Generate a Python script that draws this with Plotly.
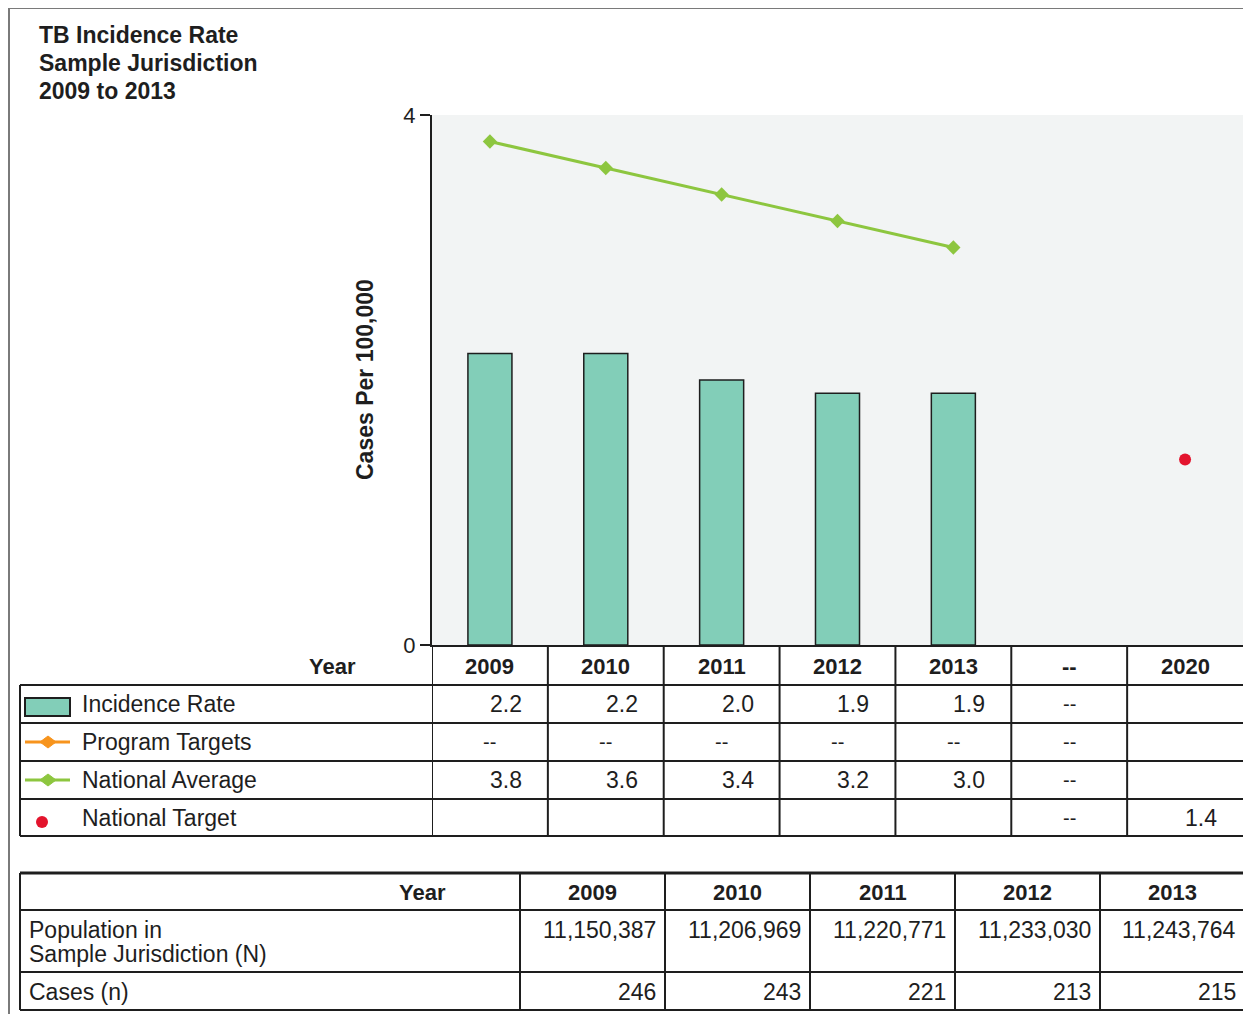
import plotly.graph_objects as go

# chart categories and values
years = ["2009", "2010", "2011", "2012", "2013", "--", "2020"]
bar_years = ["2009", "2010", "2011", "2012", "2013"]
incidence_rate = [2.2, 2.2, 2.0, 1.9, 1.9]
national_average = [3.8, 3.6, 3.4, 3.2, 3.0]
target_years = ["2020"]
national_target = [1.4]
row_labels = ["Incidence Rate", "Program Targets", "National Average", "National Target"]

# second table
pop_years = ["2009", "2010", "2011", "2012", "2013"]
population = [11150387, 11206969, 11220771, 11233030, 11243764]
cases = [246, 243, 221, 213, 215]

# page has an 8px body margin, so the figure is a bit smaller than the window
OFF = 8
W, H = 1235, 1006
L, R, T = 432 - OFF, 0, 115 - OFF
B = H - (645 - OFF)
FONT = "Liberation Sans, Arial, sans-serif"
INK = "#1e1e1e"
TEAL = "#82ceb8"
GREEN = "#8dc63f"
ORANGE = "#f7941d"
RED = "#e3142d"
RIGHT = 1243  # right edge of the plot in page pixels


def px(x):
    return (x - OFF - L) / (W - L - R)


def py(y):
    return (H - B - (y - OFF)) / (H - T - B)


fig = go.Figure()

fig.add_trace(go.Bar(
    x=bar_years, y=incidence_rate, name="Incidence Rate",
    marker=dict(color=TEAL, line=dict(color=INK, width=1.5)),
    width=0.38,
))
fig.add_trace(go.Scatter(
    x=bar_years, y=national_average, name="National Average", mode="lines+markers",
    line=dict(color=GREEN, width=3),
    marker=dict(symbol="diamond", size=11, color=GREEN),
))
fig.add_trace(go.Scatter(
    x=target_years, y=national_target, name="National Target", mode="markers",
    marker=dict(symbol="circle", size=12, color=RED),
))

shapes = []
ann = []


def hline(y, x0, x1, width=2, color=INK):
    shapes.append(dict(type="line", xref="paper", yref="paper", x0=px(x0), x1=px(x1),
                       y0=py(y), y1=py(y), line=dict(color=color, width=width)))


def vline(x, y0, y1, width=2, color=INK):
    shapes.append(dict(type="line", xref="paper", yref="paper", x0=px(x), x1=px(x),
                       y0=py(y0), y1=py(y1), line=dict(color=color, width=width)))


def text(x, y, s, anchor="left", bold=False, size=23, xref="paper", xshift=0):
    ann.append(dict(x=x, y=py(y), xref=xref, yref="paper", text=f"<b>{s}</b>" if bold else s,
                    showarrow=False, xanchor=anchor, yanchor="middle", xshift=xshift,
                    font=dict(family=FONT, size=size, color=INK)))


# outer frame
hline(8, 9, 1251, width=2, color="#7a7a7a")
vline(9, 8, 1022, width=2, color="#7a7a7a")

# title and axis title
for i, s in enumerate(["TB Incidence Rate", "Sample Jurisdiction", "2009 to 2013"]):
    text(px(37), 35 + 28 * i, s, bold=True)
ann.append(dict(x=px(350), y=0.5, xref="paper", yref="paper", text="<b>Cases Per 100,000</b>",
                textangle=-90, showarrow=False, font=dict(family=FONT, size=23, color=INK)))

# ---- table 1 (aligned with the x axis) ----
row_edges = [685, 723, 761, 799, 836]
for y in row_edges:
    hline(y, 20, RIGHT)
vline(20, 685, 836)
for i in range(len(years)):
    shapes.append(dict(type="line", xref="x", yref="paper", x0=i - 0.5, x1=i - 0.5,
                       y0=py(645), y1=py(836), line=dict(color=INK, width=2)))

text(px(358), 666, "Year", anchor="right", bold=True, size=22)
for i, yr in enumerate(years):
    text(i, 666, yr, anchor="center", bold=True, xref="x", size=22)

fmt = lambda v: f"{v:.1f}"
cells = [
    [fmt(v) for v in incidence_rate] + ["--", ""],
    ["--"] * 5 + ["--", ""],
    [fmt(v) for v in national_average] + ["--", ""],
    [""] * 5 + ["--", fmt(national_target[0])],
]
for r, row in enumerate(cells):
    yc = (row_edges[r] + row_edges[r + 1]) / 2
    text(px(80), yc, row_labels[r])
    for i, s in enumerate(row):
        if s == "--":
            text(i, yc, s, anchor="center", xref="x", size=20)
        elif s:
            text(i + 0.5, yc, s, anchor="right", xref="x", xshift=-24)

# legend icons
shapes.append(dict(type="rect", xref="paper", yref="paper", x0=px(25), x1=px(70),
                   y0=py(698), y1=py(716), fillcolor=TEAL, line=dict(color=INK, width=2)))
for yc, col in [(742, ORANGE), (780, GREEN)]:
    hline(yc, 25, 70, width=3, color=col)
    shapes.append(dict(type="path", xref="paper", yref="paper", fillcolor=col, line=dict(color=col, width=1),
                       path=f"M {px(40)},{py(yc)} L {px(48)},{py(yc - 6)} L {px(56)},{py(yc)} "
                            f"L {px(48)},{py(yc + 6)} Z"))
shapes.append(dict(type="circle", xref="paper", yref="paper", x0=px(36), x1=px(48),
                   y0=py(816), y1=py(828), fillcolor=RED, line=dict(color=RED, width=0)))

# ---- table 2 ----
col_edges = [20, 520, 665, 810, 955, 1100, 1245]
t2_rows = [873, 910, 972, 1010]
hline(873, 20, RIGHT, width=3)
for y in t2_rows[1:]:
    hline(y, 20, RIGHT)
for x in col_edges[:-1]:
    vline(x, 873, 1010)

text(px(448), 892, "Year", anchor="right", bold=True, size=22)
text(px(27), 930, "Population in")
text(px(27), 954, "Sample Jurisdiction (N)")
text(px(27), 992, "Cases (n)")
for i, yr in enumerate(pop_years):
    c0, c1 = col_edges[i + 1], col_edges[i + 2]
    text(px((c0 + c1) / 2), 892, yr, anchor="center", bold=True, size=22)
    text(px(c1 - 7), 930, f"{population[i]:,}", anchor="right")
    text(px(c1 - 7), 992, f"{cases[i]:,}", anchor="right")

fig.update_layout(
    width=W, height=H, autosize=False,
    margin=dict(l=L, r=R, t=T, b=B),
    paper_bgcolor="white", plot_bgcolor="#f2f4f4",
    showlegend=False,
    shapes=shapes, annotations=ann,
    font=dict(family=FONT, color=INK),
    xaxis=dict(type="category", categoryorder="array", categoryarray=years,
               range=[-0.5, len(years) - 0.5], showticklabels=False, ticks="",
               showgrid=False, showline=True, linecolor=INK, linewidth=2, zeroline=False),
    yaxis=dict(range=[0, 4], tickvals=[0, 4], ticks="outside", ticklen=10, tickwidth=1.5,
               tickcolor=INK, tickfont=dict(family=FONT, size=22, color=INK),
               showline=True, linecolor=INK, linewidth=2, zeroline=False,
               showgrid=True, gridcolor="#9c9c9c", gridwidth=1.5),
)

fig.write_html("out.html")
